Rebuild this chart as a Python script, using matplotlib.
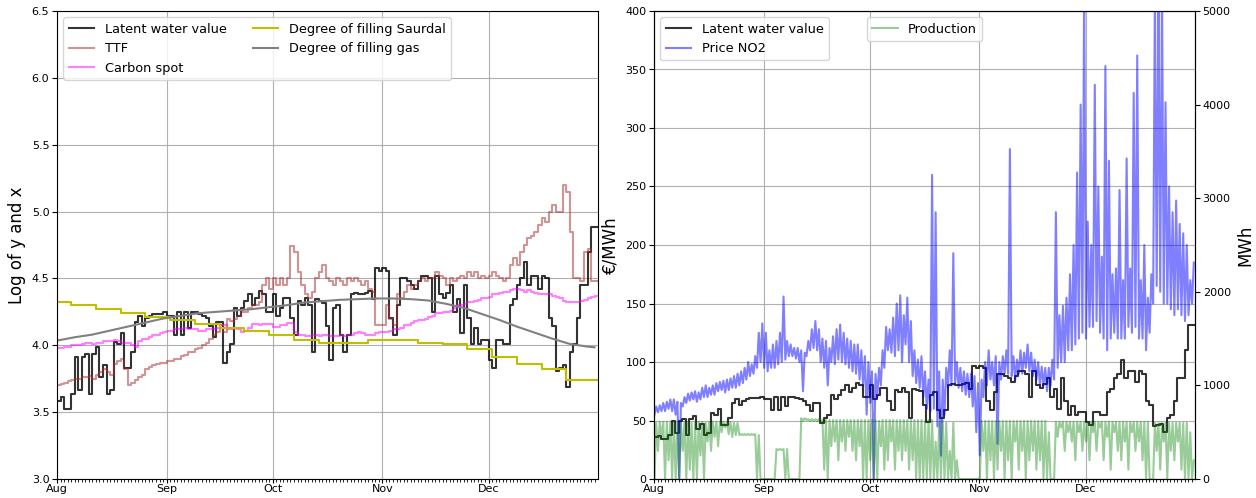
import numpy as np
import pandas as pd
import matplotlib
matplotlib.use("Agg")
import matplotlib.pyplot as plt
import matplotlib.dates as mdates

# ---------------------------------------------------------------- data
start = "2022-08-01"
days = pd.date_range(start, "2022-12-31", freq="D")

# Latent water value, daily, EUR/MWh
water_value = [
    36, 37, 34, 34, 38, 50, 39, 50, 51, 38, 51, 54, 43, 47, 38, 39, 56, 55, 60, 46,
    46, 52, 65, 68, 63, 67, 68, 69, 69, 69, 70,
    68, 68, 59, 70, 59, 70, 62, 70, 70, 69, 68, 67, 63, 58, 65, 65, 48, 52, 55, 72,
    68, 72, 76, 80, 74, 78, 82, 80, 70, 70,
    80, 68, 72, 78, 78, 67, 59, 76, 74, 78, 74, 52, 77, 76, 75, 63, 49, 72, 74, 59,
    52, 59, 80, 81, 80, 80, 81, 82, 77, 97, 95,
    97, 95, 67, 59, 74, 90, 90, 88, 86, 83, 88, 92, 92, 90, 70, 92, 80, 78, 81, 86,
    70, 77, 60, 86, 67, 55, 62, 55, 57, 57,
    49, 46, 57, 57, 55, 55, 74, 77, 86, 90, 102, 86, 92, 92, 83, 92, 90, 67, 63, 45,
    46, 47, 40, 52, 55, 67, 86, 86, 110, 132, 132,
]

# TTF, daily, natural log
ttf_log = [
    3.70, 3.71, 3.72, 3.73, 3.74, 3.75, 3.75, 3.76, 3.76, 3.77, 3.75, 3.78, 3.80, 3.82,
    3.80, 3.78, 3.86, 3.88, 3.90, 3.82, 3.70, 3.72, 3.74, 3.76, 3.78, 3.82, 3.84, 3.85,
    3.86, 3.87, 3.87,
    3.88, 3.88, 3.90, 3.90, 3.92, 3.93, 3.95, 3.95, 3.97, 3.98, 4.00, 4.02, 4.05, 4.08,
    4.10, 4.15, 4.10, 4.20, 4.18, 4.20, 4.22, 4.25, 4.25, 4.28, 4.30, 4.30, 4.32, 4.45,
    4.50, 4.42,
    4.50, 4.45, 4.50, 4.45, 4.50, 4.74, 4.70, 4.55, 4.45, 4.38, 4.35, 4.40, 4.50, 4.55,
    4.60, 4.50, 4.48, 4.45, 4.50, 4.48, 4.45, 4.50, 4.48, 4.50, 4.48, 4.45, 4.48, 4.42,
    4.40, 4.15, 4.15,
    4.15, 4.30, 4.20, 4.15, 4.38, 4.35, 4.40, 4.45, 4.42, 4.45, 4.48, 4.50, 4.48, 4.50,
    4.50, 4.55, 4.52, 4.50, 4.45, 4.50, 4.48, 4.50, 4.52, 4.50, 4.55, 4.52, 4.55, 4.50,
    4.52, 4.50,
    4.52, 4.55, 4.52, 4.50, 4.48, 4.50, 4.60, 4.65, 4.60, 4.70, 4.75, 4.80, 4.82, 4.85,
    4.90, 4.95, 4.92, 5.00, 5.05, 5.00, 5.00, 5.20, 5.15, 4.85, 4.50, 4.50, 4.48, 4.70,
    4.72, 4.48, 4.48,
]

# Carbon spot, daily, natural log
carbon_log = [
    3.98, 3.98, 3.99, 3.99, 4.00, 4.00, 4.00, 4.01, 4.02, 4.02, 4.01, 4.02, 4.02, 4.03,
    4.03, 4.03, 4.04, 4.03, 4.02, 4.02, 4.02, 4.00, 3.99, 4.03, 4.05, 4.05, 4.06, 4.08,
    4.08, 4.09, 4.10,
    4.11, 4.11, 4.12, 4.12, 4.12, 4.13, 4.12, 4.12, 4.12, 4.11, 4.11, 4.12, 4.12, 4.12,
    4.13, 4.15, 4.15, 4.12, 4.12, 4.13, 4.12, 4.10, 4.11, 4.13, 4.16, 4.16, 4.15, 4.16,
    4.16, 4.16,
    4.14, 4.14, 4.15, 4.15, 4.17, 4.17, 4.10, 4.08, 4.08, 4.07, 4.07, 4.08, 4.08, 4.07,
    4.08, 4.08, 4.07, 4.07, 4.07, 4.08, 4.07, 4.08, 4.08, 4.09, 4.10, 4.09, 4.08, 4.08,
    4.08, 4.09, 4.10,
    4.10, 4.10, 4.11, 4.12, 4.12, 4.13, 4.15, 4.15, 4.17, 4.18, 4.19, 4.19, 4.20, 4.21,
    4.22, 4.24, 4.24, 4.25, 4.25, 4.26, 4.28, 4.30, 4.30, 4.31, 4.32, 4.32, 4.33, 4.34,
    4.35, 4.35,
    4.36, 4.38, 4.38, 4.39, 4.40, 4.40, 4.41, 4.42, 4.42, 4.41, 4.40, 4.41, 4.40, 4.39,
    4.38, 4.38, 4.38, 4.38, 4.37, 4.36, 4.35, 4.33, 4.32, 4.32, 4.32, 4.32, 4.33, 4.34,
    4.35, 4.36, 4.37,
]

# Degree of filling Saurdal, weekly, natural log
saurdal_dates = ["2022-08-01"] + list(
    pd.date_range("2022-08-05", periods=21, freq="7D").strftime("%Y-%m-%d"))
saurdal_log = [4.32, 4.30, 4.27, 4.24, 4.21, 4.19, 4.16, 4.13, 4.11, 4.08, 4.04,
               4.02, 4.02, 4.04, 4.04, 4.02, 4.01, 3.97, 3.91, 3.86, 3.82, 3.74]

# Degree of filling gas storage, every fifth day, natural log
gas_dates = list(pd.date_range(start, periods=31, freq="5D").strftime("%Y-%m-%d")) + ["2022-12-31"]
gas_log = [4.035, 4.06, 4.08, 4.11, 4.14, 4.17, 4.20, 4.22, 4.24, 4.25, 4.26, 4.27,
           4.285, 4.30, 4.32, 4.33, 4.34, 4.345, 4.35, 4.35, 4.345, 4.335, 4.31, 4.28,
           4.235, 4.19, 4.14, 4.095, 4.05, 4.01, 3.99, 3.985]

# Price NO2, daily low / high, EUR/MWh
price_low = [
    55, 57, 58, 58, 60, 58, 55, 0, 62, 65, 67, 68, 66, 68, 70, 70, 72, 72, 75, 76,
    74, 76, 78, 78, 80, 82, 85, 88, 90, 95, 100,
    95, 92, 95, 95, 98, 100, 102, 105, 105, 103, 100, 75, 105, 110, 112, 110, 100, 95, 80, 100,
    98, 102, 100, 98, 95, 92, 90, 85, 80, 55,
    65, 0, 70, 80, 95, 110, 108, 105, 110, 100, 115, 100, 88, 82, 78, 70, 60, 58, 60, 45,
    20, 55, 78, 80, 82, 78, 75, 72, 70, 62, 40,
    20, 70, 80, 85, 80, 30, 85, 90, 90, 88, 85, 90, 90, 95, 92, 88, 85, 80, 80, 75,
    80, 85, 95, 100, 100, 110, 110, 115, 120, 125,
    120, 130, 130, 135, 125, 120, 110, 120, 125, 120, 120, 120, 130, 125, 130, 120, 120, 110, 125, 150,
    165, 160, 150, 150, 145, 140, 145, 140, 135, 140, 150,
]
price_high = [
    62, 63, 65, 66, 68, 68, 66, 65, 70, 73, 74, 75, 74, 78, 80, 78, 80, 82, 83, 84,
    85, 86, 88, 90, 92, 95, 100, 98, 105, 125, 133,
    125, 110, 115, 118, 125, 156, 118, 115, 112, 112, 110, 108, 118, 128, 135, 128, 120, 118, 112, 122,
    128, 132, 125, 120, 118, 115, 115, 110, 105, 100,
    92, 90, 95, 110, 130, 128, 138, 150, 157, 140, 155, 135, 110, 102, 105, 92, 85, 260, 228, 92,
    85, 95, 110, 193, 100, 95, 92, 90, 90, 88, 82,
    85, 100, 110, 100, 105, 100, 105, 110, 282, 105, 102, 110, 108, 115, 108, 102, 100, 96, 95, 95,
    102, 228, 140, 148, 155, 175, 200, 262, 320, 420,
    220, 200, 337, 250, 190, 353, 272, 175, 180, 247, 170, 274, 180, 330, 362, 170, 200, 155, 175, 420,
    420, 420, 322, 250, 228, 238, 218, 210, 200, 170, 185,
]

# Production, daily low / high, MWh
prod_low = [
    0, 300, 450, 0, 200, 0, 0, 0, 300, 0, 100, 0, 0, 250, 0, 400, 300, 450, 350, 500,
    550, 480, 450, 470, 470, 470, 470, 470, 470, 0, 0,
    0, 0, 0, 0, 310, 310, 0, 0, 0, 0, 0, 620, 630, 620, 620, 620, 600, 100, 0, 350,
    400, 200, 400, 300, 450, 300, 200, 350, 0, 0,
    200, 0, 0, 350, 100, 200, 400, 100, 300, 200, 300, 100, 200, 0, 0, 0, 0, 0, 0, 0,
    0, 0, 0, 0, 0, 0, 0, 0, 0, 0, 0,
    0, 300, 0, 200, 0, 100, 300, 0, 200, 0, 400, 100, 300, 0, 200, 300, 100, 200, 0, 0,
    0, 0, 450, 550, 300, 500, 400, 200, 500, 300,
    400, 200, 500, 300, 550, 200, 450, 100, 500, 300, 200, 400, 100, 500, 300, 400, 200, 0, 0, 0,
    300, 100, 400, 0, 300, 200, 400, 100, 0, 0, 0,
]
prod_high = [
    600, 610, 610, 610, 610, 610, 600, 600, 610, 610, 600, 600, 610, 610, 600, 610, 610, 610, 610, 610,
    610, 610, 600, 600, 480, 480, 480, 480, 480, 470, 0,
    0, 0, 0, 320, 320, 320, 320, 0, 0, 0, 650, 650, 640, 640, 640, 640, 630, 630, 630, 630,
    630, 630, 630, 630, 630, 630, 630, 630, 630, 630,
    630, 630, 620, 630, 630, 630, 630, 630, 630, 630, 630, 630, 630, 630, 630, 620, 630, 630, 400, 600,
    630, 600, 300, 600, 200, 0, 0, 0, 0, 0, 0,
    620, 620, 620, 620, 620, 620, 620, 620, 620, 620, 620, 620, 620, 620, 620, 620, 620, 620, 620, 500,
    0, 610, 610, 610, 610, 610, 610, 610, 610, 610,
    610, 610, 610, 610, 610, 610, 610, 610, 610, 610, 610, 610, 610, 610, 610, 610, 610, 610, 0, 600,
    600, 600, 600, 600, 600, 600, 600, 600, 600, 500, 200,
]

# ---------------------------------------------------------------- helpers
def daily_steps(values):
    """Edges of each day plus the values, repeated at the closing edge."""
    edges = pd.date_range(start, periods=len(values) + 1, freq="D")
    vals = np.asarray(values, dtype=float)
    return edges, np.append(vals, vals[-1])


def intraday(low, high):
    """Place the daily low in the night and the daily high in the afternoon."""
    t, v = [], []
    for day, lo, hi in zip(days, low, high):
        t += [day + pd.Timedelta(hours=3), day + pd.Timedelta(hours=15)]
        v += [lo, hi]
    return pd.DatetimeIndex(t), np.array(v, dtype=float)


saurdal_daily = (pd.Series(saurdal_log, index=pd.to_datetime(saurdal_dates))
                 .reindex(days).ffill())

xmin = pd.Timestamp(start)
xmax = pd.Timestamp("2022-12-31 23:00")

plt.rcParams["font.family"] = ["DejaVu Sans"]

fig = plt.figure(figsize=(12.56, 4.98), dpi=100)
W, H = 1256, 498
ax1 = fig.add_axes([57 / W, 19 / H, 541 / W, 468 / H])
ax2 = fig.add_axes([654 / W, 19 / H, 541 / W, 468 / H])

LEGEND_SIZE = 9.3
LABEL_SIZE = 12


def style_dates(ax):
    ax.xaxis.set_major_locator(mdates.MonthLocator())
    ax.xaxis.set_major_formatter(mdates.DateFormatter("%b"))
    ax.xaxis.set_minor_locator(mdates.DayLocator())
    ax.tick_params(axis="both", which="major", labelsize=8, length=3.5, pad=2)
    ax.tick_params(axis="x", which="major", length=3, pad=0.8)
    ax.tick_params(axis="x", which="minor", length=2)
    ax.set_xlim(xmin, xmax)
    ax.grid(True, which="major", color="#b0b0b0", linewidth=0.8)


# ---------------------------------------------------------------- left panel
e, v = daily_steps(np.log(water_value))
ax1.plot(e, v, drawstyle="steps-post", color="black", alpha=0.8, lw=1.5,
         label="Latent water value")
e, v = daily_steps(ttf_log)
ax1.plot(e, v, drawstyle="steps-post", color="brown", alpha=0.5, lw=1.5, label="TTF")
e, v = daily_steps(carbon_log)
ax1.plot(e, v, drawstyle="steps-post", color="magenta", alpha=0.5, lw=1.5,
         label="Carbon spot")
e, v = daily_steps(saurdal_daily.values)
ax1.plot(e, v, drawstyle="steps-post", color="y", lw=1.5,
         label="Degree of filling Saurdal")
ax1.plot(pd.to_datetime(gas_dates), gas_log, color="grey", lw=1.5,
         label="Degree of filling gas")

ax1.set_ylim(3.0, 6.5)
ax1.set_yticks(np.arange(3.0, 6.51, 0.5))
ax1.set_ylabel("Log of y and x", fontsize=LABEL_SIZE)
style_dates(ax1)
ax1.legend(loc="upper left", ncol=2, fontsize=LEGEND_SIZE)

# ---------------------------------------------------------------- right panel
t, p = intraday(price_low, price_high)
e, v = daily_steps(water_value)
ax2.plot(e, v, drawstyle="steps-post", color="black", alpha=0.8, lw=1.5,
         label="Latent water value")
ax2.plot(t, p, color="blue", alpha=0.5, lw=1.5, label="Price NO2")
ax2.set_ylim(0, 400)
ax2.set_yticks(np.arange(0, 401, 50))
ax2.set_ylabel("€/MWh", fontsize=LABEL_SIZE)
style_dates(ax2)
ax2.legend(loc="upper left", fontsize=LEGEND_SIZE)

ax3 = ax2.twinx()
t, q = intraday(prod_low, prod_high)
ax3.plot(t, q, color="green", alpha=0.4, lw=1.5, label="Production")
ax3.set_ylim(0, 5000)
ax3.set_ylabel("MWh", fontsize=LABEL_SIZE)
ax3.tick_params(axis="y", labelsize=8, length=3.5, pad=2)
ax3.set_xlim(xmin, xmax)
ax3.legend(loc="upper center", fontsize=LEGEND_SIZE)

fig.savefig("out.png", dpi=100)
